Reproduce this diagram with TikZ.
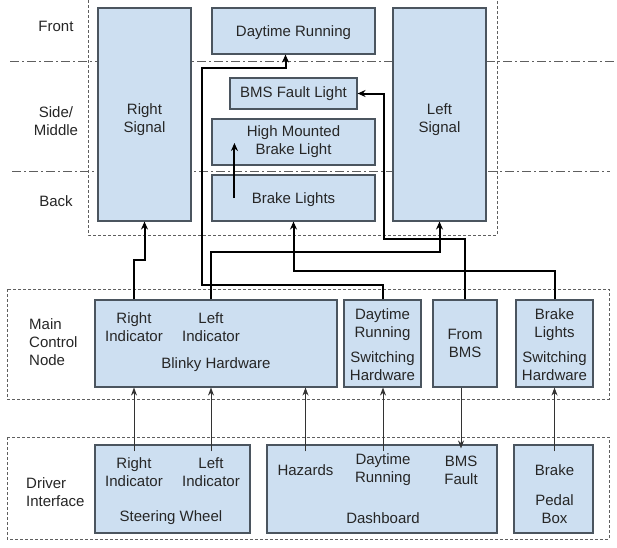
\documentclass[tikz,border=0pt]{standalone}
\usepackage{fontspec}
\setmainfont{Liberation Sans}
\usepackage{xcolor}
\usepackage{tikz}
\usetikzlibrary{arrows.meta,calc}

\definecolor{boxfill}{RGB}{205,223,241}
\definecolor{boxline}{RGB}{75,85,95}
\definecolor{zoneline}{RGB}{95,95,95}

\begin{document}
\begin{tikzpicture}[x=1pt,y=-1pt,
    every node/.style={font=\fontsize{15}{18}\selectfont,text=black!85,align=center,inner sep=1pt},
    box/.style={draw=boxline,fill=boxfill,line width=1.1pt,inner sep=0pt},
    zone/.style={draw=zoneline,line width=0.8pt,dash pattern=on 3pt off 2pt},
    lane/.style={draw=zoneline,line width=0.8pt,dash pattern=on 9pt off 3pt on 2pt off 3pt},
    bus/.style={draw=black,line width=2pt,-{Stealth[length=8pt,width=7pt]}},
    wire/.style={draw=black!80,line width=0.9pt,-{Stealth[length=8pt,width=6pt]}}]
      \fill[white] (0,0) rectangle (617,547);
      \useasboundingbox (0,0) rectangle (617,547);
      \draw[lane] (10,61) -- (617,61);
      \draw[lane] (12,171) -- (610,171);
      \draw[zone] (88,0) -- (88,235) -- (497,235) -- (497,0);
      \draw[zone] (7,289) rectangle (609,399);
      \draw[zone] (7,437) rectangle (609,539);
      \node (front) at (56,26) {Front};
      \node (side) at (56,121) {Side/\\Middle};
      \node (back) at (56,201) {Back};
      \node[align=left,anchor=west] (mcn) at (28,342) {Main\\Control\\Node};
      \node[align=left,anchor=west] (drv) at (25,492) {Driver\\Interface};
      \node[box,minimum width=93pt,minimum height=213pt] (rsig) at (144.5,114.5) {};
      \node (rsigtxt) at (144.5,120) {Right\\Signal};
      \node[box,text depth=0pt,minimum width=163pt,minimum height=46pt] (drl) at (293.5,31) {Daytime Running};
      \node[box,minimum width=127pt,minimum height=31pt] (bmsl) at (293.5,93.5) {BMS Fault Light};
      \node[box,minimum width=163pt,minimum height=46pt] (hmbl) at (293.5,142) {High Mounted\\Brake Light};
      \node[box,text depth=0pt,minimum width=163pt,minimum height=46pt] (brk) at (293.5,198) {Brake Lights};
      \node[box,minimum width=93pt,minimum height=213pt] (lsig) at (439.5,114.5) {};
      \node (lsigtxt) at (439.5,120) {Left\\Signal};
      \node[box,minimum width=242pt,minimum height=87pt] (blinky) at (216,343.5) {};
      \node (bRight) at (134,327) {Right\\Indicator};
      \node (bLeft) at (211,327) {Left\\Indicator};
      \node (bName) at (216,365) {Blinky Hardware};
      \node[box,minimum width=77pt,minimum height=87pt] (drlsw) at (382.5,343.5) {};
      \node (sDrl) at (382.5,325) {Daytime\\Running};
      \node (sDrlName) at (382.5,366) {Switching\\Hardware};
      \node[box,minimum width=64pt,minimum height=87pt] (frombms) at (465,343.5) {From\\BMS};
      \node[box,minimum width=77pt,minimum height=87pt] (brksw) at (554.5,343.5) {};
      \node (sBrk) at (554.5,325) {Brake\\Lights};
      \node (sBrkName) at (554.5,366) {Switching\\Hardware};
      \node[box,minimum width=155pt,minimum height=88pt] (wheel) at (172.5,489) {};
      \node (wRight) at (134,472) {Right\\Indicator};
      \node (wLeft) at (211,472) {Left\\Indicator};
      \node (wName) at (171,518) {Steering Wheel};
      \node[box,minimum width=230pt,minimum height=88pt] (dashb) at (382,489) {};
      \node (dHaz) at (305.5,470) {Hazards};
      \node (dDrl) at (383,470) {Daytime\\Running};
      \node (dBms) at (461,470) {BMS\\Fault};
      \node (dName) at (383,518) {Dashboard};
      \node[box,minimum width=79pt,minimum height=88pt] (pedal) at (553.5,489) {};
      \node (pBrake) at (554.5,470) {Brake};
      \node (pName) at (554.5,509) {Pedal\\Box};
      \draw[bus] (bRight |- blinky.north) -- ++(0,-39) -| (rsig.south);
      \draw[bus] (bLeft |- blinky.north) -- ++(0,-47) -| (lsig.south);
      \draw[bus] (drlsw.north) |- (202,285) -- (202,68) -| ([xshift=-8pt]drl.south);
      \draw[bus] (frombms.north) |- (384,239) |- (bmsl.east);
      \draw[bus] (brksw.north) -- ++(0,-28) -| (brk.south);
      \draw[bus] ($(brk.west)+(23,0)$) -- ($(hmbl.west)+(23,1)$);
      \draw[wire] ($(wRight |- wheel.north)+(0,7)$) -- (bRight |- blinky.south);
      \draw[wire] ($(wLeft |- wheel.north)+(0,7)$) -- (bLeft |- blinky.south);
      \draw[wire] ($(dHaz |- dashb.north)+(0,7)$) -- (dHaz |- blinky.south);
      \draw[wire] ($(dDrl |- dashb.north)+(0,7)$) -- (dDrl |- drlsw.south);
      \draw[wire] (dBms |- frombms.south) -- ($(dBms |- dashb.north)+(0,4)$);
      \draw[wire] ($(pBrake |- pedal.north)+(0,7)$) -- (pBrake |- brksw.south);
    \end{tikzpicture}
\end{document}
